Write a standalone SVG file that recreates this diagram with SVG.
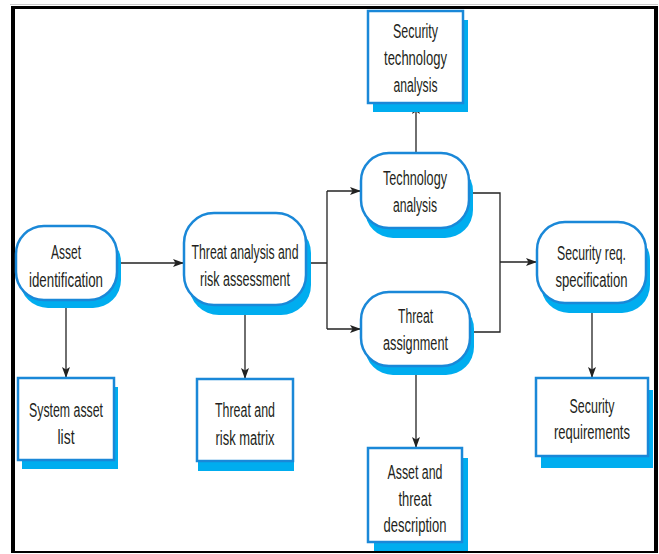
<svg xmlns="http://www.w3.org/2000/svg" width="659" height="554" viewBox="0 0 659 554">
<style>
.shadow{fill:#00adef;}
.box{fill:#ffffff;stroke:#1a88d8;stroke-width:2.5;}
.lbl{font-family:"Liberation Sans","DejaVu Sans",sans-serif;font-size:21px;fill:#231f20;text-anchor:middle;}
.conn{fill:none;stroke:#222222;stroke-width:1.3;}
</style>
<defs>
<marker id="arr" markerUnits="userSpaceOnUse" markerWidth="12" markerHeight="9" refX="11" refY="4" orient="auto">
<path d="M0,0 L11,4 L0,8 L2.5,4 z" fill="#222222"/>
</marker>
</defs>
<rect x="0" y="0" width="659" height="554" fill="#ffffff"/>
<g id="frame">
<line x1="10" y1="4.5" x2="658" y2="4.5" stroke="#cccccc" stroke-width="1"/>
<line x1="11" y1="7.5" x2="658" y2="7.5" stroke="#000000" stroke-width="3"/>
<line x1="13" y1="6" x2="13" y2="553" stroke="#000000" stroke-width="4"/>
<line x1="656" y1="6" x2="656" y2="553" stroke="#000000" stroke-width="4"/>
<line x1="11" y1="552" x2="658" y2="552" stroke="#000000" stroke-width="2"/>
</g>
<g id="connectors">
<path class="conn" d="M117,263 H184" marker-end="url(#arr)"/>
<path class="conn" d="M306,263 H327 M327,191 V329"/>
<path class="conn" d="M327,191 H361" marker-end="url(#arr)"/>
<path class="conn" d="M327,329 H361" marker-end="url(#arr)"/>
<path class="conn" d="M469,193 H500 V332 H470"/>
<path class="conn" d="M500,262 H537" marker-end="url(#arr)"/>
<path class="conn" d="M416,153 V103" marker-end="url(#arr)"/>
<path class="conn" d="M66,300 V378" marker-end="url(#arr)"/>
<path class="conn" d="M245,305 V379" marker-end="url(#arr)"/>
<path class="conn" d="M416,366 V448" marker-end="url(#arr)"/>
<path class="conn" d="M592,303 V378" marker-end="url(#arr)"/>
</g>
<g id="asset-identification">
<rect class="shadow" x="20" y="234" width="101" height="74" rx="28"/>
<rect class="box" x="16" y="226" width="101" height="74" rx="28"/>
<text class="lbl" transform="translate(66,259) scale(0.65,1)" textLength="46.2" lengthAdjust="spacingAndGlyphs">Asset</text>
<text class="lbl" transform="translate(66,287) scale(0.65,1)" textLength="113.8" lengthAdjust="spacingAndGlyphs">identification</text>
</g>
<g id="threat-analysis">
<rect class="shadow" x="189" y="223" width="122" height="92" rx="30"/>
<rect class="box" x="184" y="213" width="122" height="92" rx="30"/>
<text class="lbl" transform="translate(245,259) scale(0.65,1)" textLength="164.6" lengthAdjust="spacingAndGlyphs">Threat analysis and</text>
<text class="lbl" transform="translate(245,286) scale(0.65,1)" textLength="138.5" lengthAdjust="spacingAndGlyphs">risk assessment</text>
</g>
<g id="technology-analysis">
<rect class="shadow" x="365" y="163" width="108" height="75" rx="28"/>
<rect class="box" x="361" y="153" width="108" height="75" rx="28"/>
<text class="lbl" transform="translate(415,185) scale(0.65,1)" textLength="98.5" lengthAdjust="spacingAndGlyphs">Technology</text>
<text class="lbl" transform="translate(415,212) scale(0.65,1)" textLength="67.7" lengthAdjust="spacingAndGlyphs">analysis</text>
</g>
<g id="threat-assignment">
<rect class="shadow" x="365" y="301" width="109" height="74" rx="28"/>
<rect class="box" x="361" y="292" width="109" height="74" rx="28"/>
<text class="lbl" transform="translate(415.5,323) scale(0.65,1)" textLength="53.8" lengthAdjust="spacingAndGlyphs">Threat</text>
<text class="lbl" transform="translate(415.5,350) scale(0.65,1)" textLength="100" lengthAdjust="spacingAndGlyphs">assignment</text>
</g>
<g id="security-req-specification">
<rect class="shadow" x="541" y="232" width="109" height="81" rx="28"/>
<rect class="box" x="537" y="222" width="109" height="81" rx="28"/>
<text class="lbl" transform="translate(591.5,260) scale(0.65,1)" textLength="106.2" lengthAdjust="spacingAndGlyphs">Security req.</text>
<text class="lbl" transform="translate(591.5,287) scale(0.65,1)" textLength="110.8" lengthAdjust="spacingAndGlyphs">specification</text>
</g>
<g id="security-technology-analysis">
<rect class="shadow" x="373" y="20" width="95" height="92"/>
<rect class="box" x="368" y="11" width="95" height="92"/>
<text class="lbl" transform="translate(415.5,38) scale(0.65,1)" textLength="69.2" lengthAdjust="spacingAndGlyphs">Security</text>
<text class="lbl" transform="translate(415.5,65) scale(0.65,1)" textLength="96.9" lengthAdjust="spacingAndGlyphs">technology</text>
<text class="lbl" transform="translate(415.5,92) scale(0.65,1)" textLength="67.7" lengthAdjust="spacingAndGlyphs">analysis</text>
</g>
<g id="system-asset-list">
<rect class="shadow" x="22" y="387" width="96" height="82"/>
<rect class="box" x="18" y="378" width="96" height="82"/>
<text class="lbl" transform="translate(66,417) scale(0.65,1)" textLength="113.8" lengthAdjust="spacingAndGlyphs">System asset</text>
<text class="lbl" transform="translate(66,444) scale(0.65,1)" textLength="26.2" lengthAdjust="spacingAndGlyphs">list</text>
</g>
<g id="threat-and-risk-matrix">
<rect class="shadow" x="198" y="389" width="96" height="82"/>
<rect class="box" x="197" y="379" width="96" height="82"/>
<text class="lbl" transform="translate(245,417) scale(0.65,1)" textLength="92.3" lengthAdjust="spacingAndGlyphs">Threat and</text>
<text class="lbl" transform="translate(245,445) scale(0.65,1)" textLength="90.8" lengthAdjust="spacingAndGlyphs">risk matrix</text>
</g>
<g id="asset-and-threat-description">
<rect class="shadow" x="374" y="458" width="94" height="93"/>
<rect class="box" x="368" y="448" width="94" height="94"/>
<text class="lbl" transform="translate(415,479) scale(0.65,1)" textLength="84.6" lengthAdjust="spacingAndGlyphs">Asset and</text>
<text class="lbl" transform="translate(415,506) scale(0.65,1)" textLength="50.8" lengthAdjust="spacingAndGlyphs">threat</text>
<text class="lbl" transform="translate(415,532) scale(0.65,1)" textLength="96.9" lengthAdjust="spacingAndGlyphs">description</text>
</g>
<g id="security-requirements">
<rect class="shadow" x="541" y="390" width="112" height="78"/>
<rect class="box" x="536" y="378" width="112" height="78"/>
<text class="lbl" transform="translate(592,413) scale(0.65,1)" textLength="69.2" lengthAdjust="spacingAndGlyphs">Security</text>
<text class="lbl" transform="translate(592,439) scale(0.65,1)" textLength="116.9" lengthAdjust="spacingAndGlyphs">requirements</text>
</g>
</svg>
